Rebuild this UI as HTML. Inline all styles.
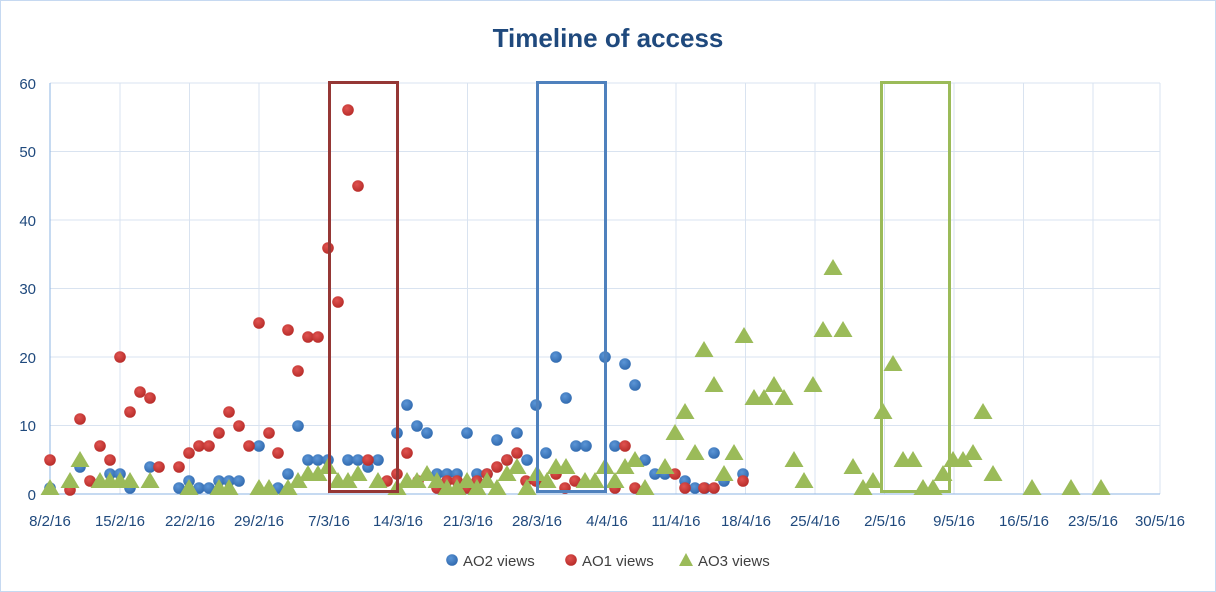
<!DOCTYPE html>
<html><head><meta charset="utf-8"><style>
html,body{margin:0;padding:0;background:#fff}
svg{display:block}
text{font-family:"Liberation Sans",sans-serif}
</style></head><body>
<svg width="1216" height="592" viewBox="0 0 1216 592" xmlns="http://www.w3.org/2000/svg">
<defs>
<radialGradient id="gb" cx="40%" cy="35%" r="70%"><stop offset="0" stop-color="#5b95d6"/><stop offset="1" stop-color="#2f68ad"/></radialGradient>
<radialGradient id="gr" cx="40%" cy="35%" r="70%"><stop offset="0" stop-color="#e05350"/><stop offset="1" stop-color="#b52a27"/></radialGradient>
<symbol id="b" overflow="visible"><circle r="5.8" fill="url(#gb)"/></symbol>
<symbol id="r" overflow="visible"><circle r="5.8" fill="url(#gr)"/></symbol>
<symbol id="t" overflow="visible"><path d="M0,-9 L9.5,7 L-9.5,7Z" fill="#9bbb59"/></symbol>
</defs>
<rect x="0.5" y="0.5" width="1215" height="591" fill="#fff" stroke="#c6d9f1"/>
<text x="608" y="47" text-anchor="middle" font-size="26" font-weight="bold" fill="#1f497d">Timeline of access</text>
<g stroke="#d9e3f0" stroke-width="1">
<line x1="50" y1="83" x2="1160" y2="83"/><line x1="50" y1="151.5" x2="1160" y2="151.5"/><line x1="50" y1="220" x2="1160" y2="220"/><line x1="50" y1="288.5" x2="1160" y2="288.5"/><line x1="50" y1="357" x2="1160" y2="357"/><line x1="50" y1="425.5" x2="1160" y2="425.5"/>
<line x1="120" y1="83" x2="120" y2="494"/><line x1="189.5" y1="83" x2="189.5" y2="494"/><line x1="259" y1="83" x2="259" y2="494"/><line x1="328.5" y1="83" x2="328.5" y2="494"/><line x1="398" y1="83" x2="398" y2="494"/><line x1="467.5" y1="83" x2="467.5" y2="494"/><line x1="537" y1="83" x2="537" y2="494"/><line x1="606.5" y1="83" x2="606.5" y2="494"/><line x1="676" y1="83" x2="676" y2="494"/><line x1="745.5" y1="83" x2="745.5" y2="494"/><line x1="815" y1="83" x2="815" y2="494"/><line x1="884.5" y1="83" x2="884.5" y2="494"/><line x1="954" y1="83" x2="954" y2="494"/><line x1="1023.5" y1="83" x2="1023.5" y2="494"/><line x1="1093" y1="83" x2="1093" y2="494"/><line x1="1160" y1="83" x2="1160" y2="494"/>
</g>
<line x1="50" y1="83" x2="50" y2="494" stroke="#8eb4e3"/>
<line x1="50" y1="494" x2="1160" y2="494" stroke="#8eb4e3"/>
<g font-size="15" fill="#1f497d" text-anchor="end">
<text x="36" y="89">60</text><text x="36" y="157">50</text><text x="36" y="226">40</text><text x="36" y="294">30</text><text x="36" y="363">20</text><text x="36" y="431">10</text><text x="36" y="500">0</text>
</g>
<g font-size="15" fill="#1f497d" text-anchor="middle">
<text x="50" y="526">8/2/16</text><text x="120" y="526">15/2/16</text><text x="190" y="526">22/2/16</text><text x="259" y="526">29/2/16</text><text x="329" y="526">7/3/16</text><text x="398" y="526">14/3/16</text><text x="468" y="526">21/3/16</text><text x="537" y="526">28/3/16</text><text x="607" y="526">4/4/16</text><text x="676" y="526">11/4/16</text><text x="746" y="526">18/4/16</text><text x="815" y="526">25/4/16</text><text x="885" y="526">2/5/16</text><text x="954" y="526">9/5/16</text><text x="1024" y="526">16/5/16</text><text x="1093" y="526">23/5/16</text><text x="1160" y="526">30/5/16</text>
</g>
<g id="blue">
<use href="#b" x="50" y="488"/><use href="#b" x="80" y="467"/><use href="#b" x="110" y="474"/><use href="#b" x="120" y="474"/><use href="#b" x="130" y="488"/><use href="#b" x="150" y="467"/><use href="#b" x="179" y="488"/><use href="#b" x="189" y="481"/><use href="#b" x="199" y="488"/><use href="#b" x="209" y="488"/><use href="#b" x="219" y="481"/><use href="#b" x="229" y="481"/><use href="#b" x="239" y="481"/><use href="#b" x="259" y="446"/><use href="#b" x="278" y="488"/><use href="#b" x="288" y="474"/><use href="#b" x="298" y="426"/><use href="#b" x="308" y="460"/><use href="#b" x="318" y="460"/><use href="#b" x="328" y="460"/><use href="#b" x="348" y="460"/><use href="#b" x="358" y="460"/><use href="#b" x="368" y="467"/><use href="#b" x="378" y="460"/><use href="#b" x="397" y="433"/><use href="#b" x="407" y="405"/><use href="#b" x="417" y="426"/><use href="#b" x="427" y="433"/><use href="#b" x="437" y="474"/><use href="#b" x="447" y="474"/><use href="#b" x="457" y="474"/><use href="#b" x="467" y="433"/><use href="#b" x="477" y="474"/><use href="#b" x="487" y="474"/><use href="#b" x="497" y="440"/><use href="#b" x="507" y="460"/><use href="#b" x="517" y="433"/><use href="#b" x="527" y="460"/><use href="#b" x="536" y="405"/><use href="#b" x="546" y="453"/><use href="#b" x="556" y="357"/><use href="#b" x="566" y="398"/><use href="#b" x="576" y="446"/><use href="#b" x="586" y="446"/><use href="#b" x="605" y="357"/><use href="#b" x="615" y="446"/><use href="#b" x="625" y="364"/><use href="#b" x="635" y="385"/><use href="#b" x="645" y="460"/><use href="#b" x="655" y="474"/><use href="#b" x="665" y="474"/><use href="#b" x="685" y="481"/><use href="#b" x="695" y="488"/><use href="#b" x="705" y="488"/><use href="#b" x="714" y="453"/><use href="#b" x="724" y="481"/><use href="#b" x="743" y="474"/>
</g>
<g id="red">
<use href="#r" x="50" y="460"/><use href="#r" x="70" y="490"/><use href="#r" x="80" y="419"/><use href="#r" x="90" y="481"/><use href="#r" x="100" y="446"/><use href="#r" x="110" y="460"/><use href="#r" x="120" y="357"/><use href="#r" x="130" y="412"/><use href="#r" x="140" y="392"/><use href="#r" x="150" y="398"/><use href="#r" x="159" y="467"/><use href="#r" x="179" y="467"/><use href="#r" x="189" y="453"/><use href="#r" x="199" y="446"/><use href="#r" x="209" y="446"/><use href="#r" x="219" y="433"/><use href="#r" x="229" y="412"/><use href="#r" x="239" y="426"/><use href="#r" x="249" y="446"/><use href="#r" x="259" y="323"/><use href="#r" x="269" y="433"/><use href="#r" x="278" y="453"/><use href="#r" x="288" y="330"/><use href="#r" x="298" y="371"/><use href="#r" x="308" y="337"/><use href="#r" x="318" y="337"/><use href="#r" x="328" y="248"/><use href="#r" x="338" y="302"/><use href="#r" x="348" y="110"/><use href="#r" x="358" y="186"/><use href="#r" x="368" y="460"/><use href="#r" x="387" y="481"/><use href="#r" x="397" y="474"/><use href="#r" x="407" y="453"/><use href="#r" x="418" y="481"/><use href="#r" x="437" y="488"/><use href="#r" x="447" y="481"/><use href="#r" x="457" y="481"/><use href="#r" x="467" y="488"/><use href="#r" x="477" y="481"/><use href="#r" x="487" y="474"/><use href="#r" x="497" y="467"/><use href="#r" x="507" y="460"/><use href="#r" x="517" y="453"/><use href="#r" x="526" y="481"/><use href="#r" x="536" y="481"/><use href="#r" x="556" y="474"/><use href="#r" x="565" y="488"/><use href="#r" x="575" y="481"/><use href="#r" x="615" y="488"/><use href="#r" x="625" y="446"/><use href="#r" x="635" y="488"/><use href="#r" x="675" y="474"/><use href="#r" x="685" y="488"/><use href="#r" x="704" y="488"/><use href="#r" x="714" y="488"/><use href="#r" x="743" y="481"/>
</g>
<g id="green">
<use href="#t" x="50" y="488"/><use href="#t" x="70" y="481"/><use href="#t" x="80" y="460"/><use href="#t" x="100" y="481"/><use href="#t" x="110" y="481"/><use href="#t" x="120" y="481"/><use href="#t" x="130" y="481"/><use href="#t" x="150" y="481"/><use href="#t" x="189" y="488"/><use href="#t" x="219" y="488"/><use href="#t" x="229" y="488"/><use href="#t" x="259" y="488"/><use href="#t" x="269" y="488"/><use href="#t" x="288" y="488"/><use href="#t" x="298" y="481"/><use href="#t" x="308" y="474"/><use href="#t" x="318" y="474"/><use href="#t" x="328" y="467"/><use href="#t" x="338" y="481"/><use href="#t" x="348" y="481"/><use href="#t" x="358" y="474"/><use href="#t" x="378" y="481"/><use href="#t" x="397" y="488"/><use href="#t" x="407" y="481"/><use href="#t" x="417" y="481"/><use href="#t" x="427" y="474"/><use href="#t" x="437" y="481"/><use href="#t" x="447" y="488"/><use href="#t" x="457" y="488"/><use href="#t" x="467" y="481"/><use href="#t" x="477" y="488"/><use href="#t" x="487" y="481"/><use href="#t" x="497" y="488"/><use href="#t" x="507" y="474"/><use href="#t" x="517" y="467"/><use href="#t" x="527" y="488"/><use href="#t" x="537" y="474"/><use href="#t" x="547" y="481"/><use href="#t" x="556" y="467"/><use href="#t" x="566" y="467"/><use href="#t" x="585" y="481"/><use href="#t" x="595" y="481"/><use href="#t" x="605" y="467"/><use href="#t" x="615" y="481"/><use href="#t" x="625" y="467"/><use href="#t" x="635" y="460"/><use href="#t" x="645" y="488"/><use href="#t" x="665" y="467"/><use href="#t" x="675" y="433"/><use href="#t" x="685" y="412"/><use href="#t" x="695" y="453"/><use href="#t" x="704" y="350"/><use href="#t" x="714" y="385"/><use href="#t" x="724" y="474"/><use href="#t" x="734" y="453"/><use href="#t" x="744" y="336"/><use href="#t" x="754" y="398"/><use href="#t" x="764" y="398"/><use href="#t" x="774" y="385"/><use href="#t" x="784" y="398"/><use href="#t" x="794" y="460"/><use href="#t" x="804" y="481"/><use href="#t" x="813" y="385"/><use href="#t" x="823" y="330"/><use href="#t" x="833" y="268"/><use href="#t" x="843" y="330"/><use href="#t" x="853" y="467"/><use href="#t" x="863" y="488"/><use href="#t" x="873" y="481"/><use href="#t" x="883" y="412"/><use href="#t" x="893" y="364"/><use href="#t" x="903" y="460"/><use href="#t" x="913" y="460"/><use href="#t" x="923" y="488"/><use href="#t" x="933" y="488"/><use href="#t" x="943" y="474"/><use href="#t" x="953" y="460"/><use href="#t" x="963" y="460"/><use href="#t" x="973" y="453"/><use href="#t" x="983" y="412"/><use href="#t" x="993" y="474"/><use href="#t" x="1032" y="488"/><use href="#t" x="1071" y="488"/><use href="#t" x="1101" y="488"/>
</g>
<rect x="329.5" y="82.5" width="68" height="409" fill="none" stroke="#953735" stroke-width="3"/>
<rect x="537.5" y="82.5" width="68" height="409" fill="none" stroke="#4f81bd" stroke-width="3"/>
<rect x="881.5" y="82.5" width="68" height="409" fill="none" stroke="#9bbb59" stroke-width="3"/>
<use href="#b" x="452" y="560"/>
<text x="463" y="566" font-size="15" fill="#404040">AO2 views</text>
<use href="#r" x="571" y="560"/>
<text x="582" y="566" font-size="15" fill="#404040">AO1 views</text>
<path d="M686,553 L693,566 L679,566Z" fill="#9bbb59"/>
<text x="698" y="566" font-size="15" fill="#404040">AO3 views</text>
</svg>
</body></html>
